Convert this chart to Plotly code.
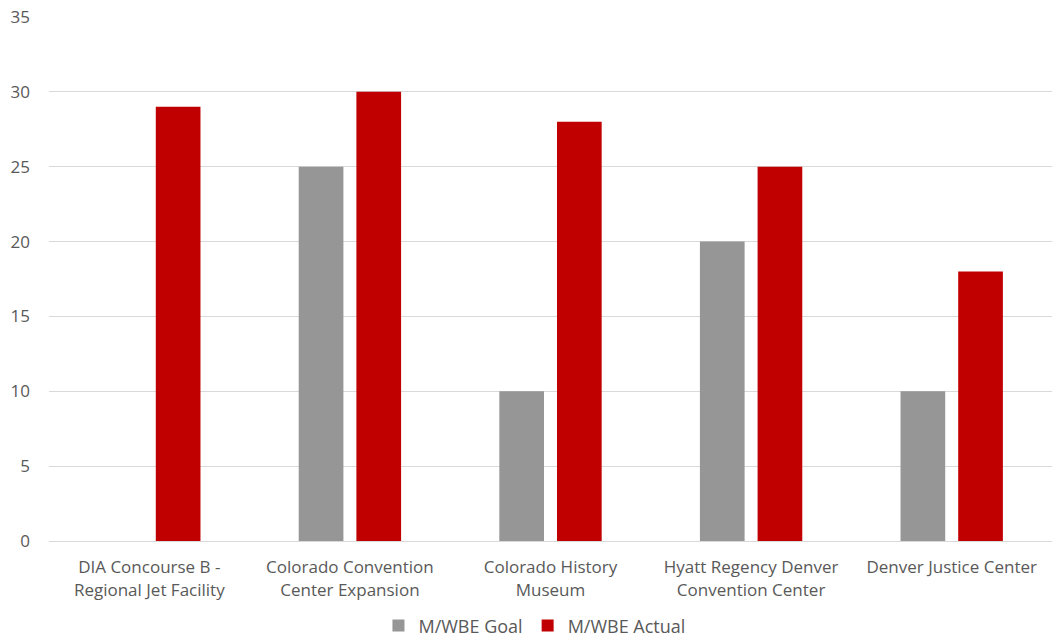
import plotly.graph_objects as go

categories = [
    "DIA Concourse B -<br>Regional Jet Facility",
    "Colorado Convention<br>Center Expansion",
    "Colorado History<br>Museum",
    "Hyatt Regency Denver<br>Convention Center",
    "Denver Justice Center",
]
goal_values = [None, 25, 10, 20, 10]
actual_values = [29, 30, 28, 25, 18]
y_ticks = [0, 5, 10, 15, 20, 25, 30, 35]

FONT = "Open Sans"
TXT = "#595959"

fig = go.Figure()
fig.add_trace(go.Bar(name="M/WBE Goal", x=categories, y=goal_values,
                     marker=dict(color="#969696", line=dict(width=0))))
fig.add_trace(go.Bar(name="M/WBE Actual", x=categories, y=actual_values,
                     marker=dict(color="#C00000", line=dict(width=0))))

fig.update_layout(
    width=1052, height=640,
    margin=dict(l=49, r=0, t=17, b=99, autoexpand=False),
    paper_bgcolor="white", plot_bgcolor="white",
    barmode="group", bargap=0.425, bargroupgap=0.225,
    font=dict(family=FONT, size=17, color=TXT),
    showlegend=True,
    legend=dict(orientation="h", x=0.484, xanchor="center",
                yref="paper", y=-0.162, yanchor="middle",
                font=dict(family=FONT, size=18, color=TXT),
                itemwidth=30, traceorder="normal"),
    xaxis=dict(showgrid=False, showline=True, linecolor="#D9D9D9", linewidth=1,
               automargin=False,
               tickfont=dict(family=FONT, size=17, color=TXT), ticks="",
               ticklabelstandoff=11),
    yaxis=dict(range=[0, 35], tickvals=y_ticks, showgrid=True, gridcolor="#D9D9D9",
               gridwidth=1, zeroline=False, showline=False, ticks="", automargin=False,
               tickfont=dict(family=FONT, size=17, color=TXT), ticklabelstandoff=18),
)

fig.write_html("out.html")
